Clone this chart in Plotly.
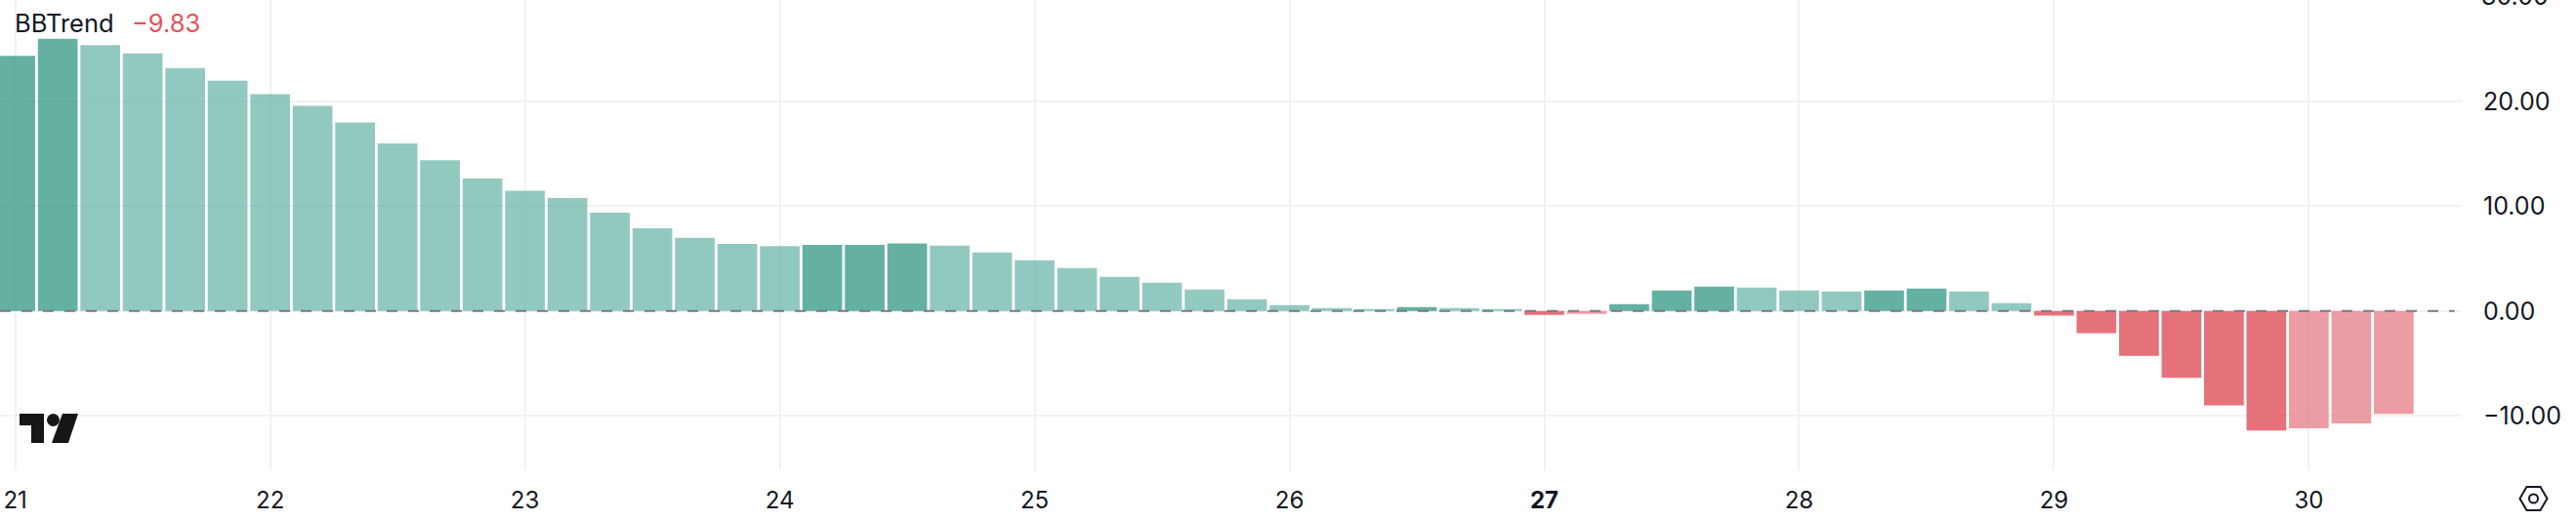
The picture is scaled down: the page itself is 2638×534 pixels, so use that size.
import plotly.graph_objects as go

# Values, one bar per 4 hours
bbtrend = [24.37, 26.0, 25.4, 24.6, 23.2, 22.0, 20.7, 19.6, 18.0, 16.0, 14.4, 12.66,
           11.5, 10.8, 9.4, 7.9, 7.0, 6.4, 6.2, 6.33, 6.33, 6.45, 6.26, 5.6,
           4.86, 4.1, 3.27, 2.7, 2.05, 1.12, 0.56, 0.28, 0.19, 0.37, 0.28, 0.19,
           -0.37, -0.28, 0.65, 1.96, 2.34, 2.24, 1.96, 1.86, 1.96, 2.15, 1.86, 0.76,
           -0.44, -2.12, -4.27, -6.38, -9.0, -11.4, -11.2, -10.74, -9.83]
# 0 light green, 1 dark green, 2 dark red, 3 light red
shade = [1, 1, 0, 0, 0, 0, 0, 0, 0, 0, 0, 0,
         0, 0, 0, 0, 0, 0, 0, 1, 1, 1, 0, 0,
         0, 0, 0, 0, 0, 0, 0, 0, 0, 1, 0, 0,
         2, 3, 1, 1, 1, 0, 0, 0, 1, 1, 0, 0,
         2, 2, 2, 2, 2, 2, 3, 3, 3]
palette = ["rgba(100,178,162,0.7)", "rgba(34,144,121,0.7)",
           "rgba(218,52,65,0.7)", "rgba(228,116,126,0.7)"]
day_ticks = [0, 6, 12, 18, 24, 30, 36, 42, 48, 54]
day_labels = ["21", "22", "23", "24", "25", "26", "<b>27</b>", "28", "29", "30"]
y_ticks = [-10, 0, 10, 20]
y_labels = ["\u221210.00", "0.00", "10.00", "20.00"]

W, H = 2638, 534
PL_R, PL_B = 2521.5, 482
INK = "#131722"
GRID = "#f1f2f3"

def px(x):
    return x / PL_R

def py(y):
    return 1 - y / PL_B

def path(points):
    return "M " + " L ".join(f"{px(a):.5f},{py(b):.5f}" for a, b in points) + " Z"

fig = go.Figure(go.Bar(
    x=list(range(len(bbtrend))), y=bbtrend,
    marker=dict(color=[palette[s] for s in shade], line_width=0),
    hoverinfo="skip",
))

shapes = [
    dict(type="line", xref="paper", yref="y", x0=0, x1=2514 / PL_R, y0=0, y1=0,
         line=dict(color="#787b86", width=2, dash="11px,11px"), layer="above"),
    # TradingView logo
    dict(type="path", xref="paper", yref="paper", fillcolor="#161616", line_width=0,
         path=path([(20, 424), (45, 424), (45, 454), (32, 454), (32, 436), (20, 436)])),
    dict(type="path", xref="paper", yref="paper", fillcolor="#161616", line_width=0,
         path=path([(64, 424), (80, 424), (70, 454), (53, 454)])),
    dict(type="circle", xref="paper", yref="paper", fillcolor="#161616", line_width=0,
         x0=px(48), x1=px(61), y0=py(437), y1=py(424)),
    # Settings hexagon
    dict(type="path", xref="paper", yref="paper", fillcolor="rgba(0,0,0,0)",
         line=dict(color=INK, width=2),
         path=path([(2581, 511), (2588, 499), (2602, 499), (2609, 511), (2602, 523), (2588, 523)])),
    dict(type="circle", xref="paper", yref="paper", fillcolor="rgba(0,0,0,0)",
         line=dict(color=INK, width=2),
         x0=px(2590.5), x1=px(2599.5), y0=py(515.5), y1=py(506.5)),
]

annotations = [
    dict(text="BBTrend", xref="paper", yref="paper", x=px(13), y=py(23), xanchor="left",
         yanchor="middle", showarrow=False, font=dict(family="Inter", size=25.5, color=INK)),
    dict(text="\u22129.83", xref="paper", yref="paper", x=px(133), y=py(23), xanchor="left",
         yanchor="middle", showarrow=False, font=dict(family="Inter", size=25.5, color="#e5515c")),
    # 30.00 sits just past the top edge of the page, so only its lower part shows
    dict(text="30.00", xref="paper", yref="paper", x=px(2540), y=py(-4), xanchor="left",
         yanchor="middle", showarrow=False, font=dict(family="Inter", size=25, color=INK)),
]

fig.update_layout(
    width=W, height=H, autosize=False, showlegend=False,
    margin=dict(l=0, r=W - PL_R, t=0, b=H - PL_B, pad=0),
    paper_bgcolor="white", plot_bgcolor="white",
    bargap=0.065, shapes=shapes, annotations=annotations,
    font=dict(family="Inter", size=24, color=INK),
    xaxis=dict(range=[-0.36, 57.6], tickmode="array", tickvals=day_ticks, ticktext=day_labels,
               showgrid=True, gridcolor=GRID, gridwidth=2, zeroline=False, showline=False,
               ticks="", ticklabelstandoff=14, automargin=False),
    yaxis=dict(range=[-15.2, 29.7], side="right", tickmode="array", tickvals=y_ticks,
               ticktext=y_labels, tickfont=dict(size=25), showgrid=True, gridcolor=GRID,
               gridwidth=2, zeroline=False, showline=False, ticks="", ticklabelstandoff=21,
               automargin=False),
)

fig.write_html("out.html", config={"displayModeBar": False},
               post_script="document.body.style.margin='0';document.documentElement.style.overflow='hidden';")
